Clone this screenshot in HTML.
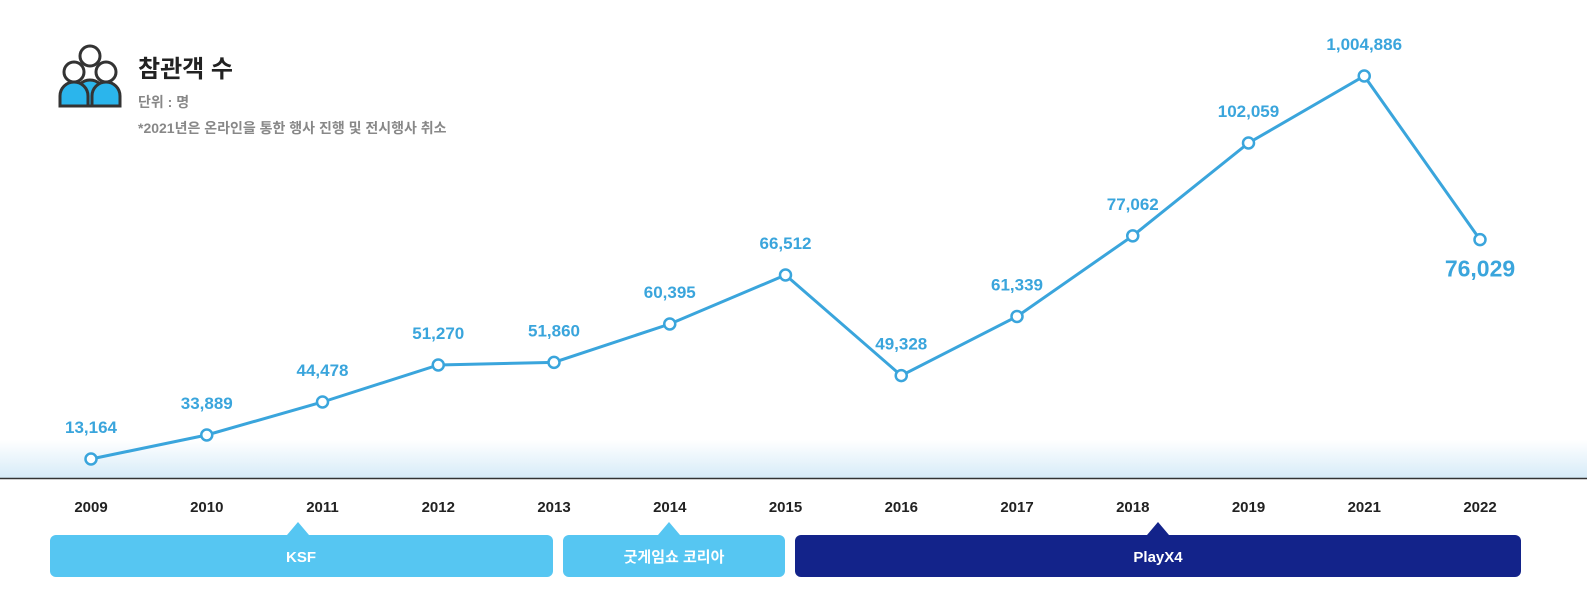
<!DOCTYPE html>
<html><head><meta charset="utf-8">
<style>
body{margin:0;background:#fff;font-family:"Liberation Sans","Noto Sans CJK KR",sans-serif;}
#wrap{position:relative;width:1587px;height:595px;overflow:hidden;}
</style></head>
<body>
<div id="wrap">
<svg id="chart" width="1587" height="595" xmlns="http://www.w3.org/2000/svg">
<defs>
<linearGradient id="fade" x1="0" y1="0" x2="0" y2="1">
<stop offset="0" stop-color="#ffffff"/>
<stop offset="1" stop-color="#d6ebf8"/>
</linearGradient>
</defs>
<rect x="0" y="440" width="1587" height="38" fill="url(#fade)"/>
<line x1="0" y1="478.5" x2="1587" y2="478.5" stroke="#333" stroke-width="1.5"/>
<g>
<circle cx="74" cy="72" r="10" fill="#fff" stroke="#333" stroke-width="3"/>
<circle cx="106" cy="72" r="10" fill="#fff" stroke="#333" stroke-width="3"/>
<circle cx="90" cy="56" r="10" fill="#fff" stroke="#333" stroke-width="3"/>
<path d="M76 106 v-12 a14 14 0 0 1 28 0 v12 z" fill="#2bb5ec" stroke="#333" stroke-width="3"/>
<path d="M60 106 v-10 a14 14 0 0 1 28 0 v10 z" fill="#2bb5ec" stroke="#333" stroke-width="3"/>
<path d="M92 106 v-10 a14 14 0 0 1 28 0 v10 z" fill="#2bb5ec" stroke="#333" stroke-width="3"/>
</g>
<text x="138" y="77" font-size="24" font-weight="bold" fill="#222">참관객 수</text>
<text x="138" y="107" font-size="14" font-weight="bold" fill="#888">단위 : 명</text>
<text x="138" y="133" font-size="14" font-weight="bold" fill="#888">*2021년은 온라인을 통한 행사 진행 및 전시행사 취소</text>
<g id="marks"></g>
<g>
<polygon points="287,535 298,522 309,535" fill="#56c6f2"/>
<rect x="50" y="535" width="503" height="42" rx="6" fill="#56c6f2"/>
<text x="301" y="562" font-size="15" font-weight="bold" fill="#fff" text-anchor="middle">KSF</text>
<polygon points="658,535 669,522 680,535" fill="#56c6f2"/>
<rect x="563" y="535" width="222" height="42" rx="6" fill="#56c6f2"/>
<text x="674" y="562" font-size="15" font-weight="bold" fill="#fff" text-anchor="middle">굿게임쇼 코리아</text>
<polygon points="1147,535 1158,522 1169,535" fill="#13238a"/>
<rect x="795" y="535" width="726" height="42" rx="6" fill="#13238a"/>
<text x="1158" y="562" font-size="15" font-weight="bold" fill="#fff" text-anchor="middle">PlayX4</text>
</g>
</svg>
</div>
<script>
const years = ["2009","2010","2011","2012","2013","2014","2015","2016","2017","2018","2019","2021","2022"];
const visitors = [13164,33889,44478,51270,51860,60395,66512,49328,61339,77062,102059,1004886,76029];
const valueLabels = ["13,164","33,889","44,478","51,270","51,860","60,395","66,512","49,328","61,339","77,062","102,059","1,004,886","76,029"];
// illustrative (non-linear) axis breakpoints
const scaleDomain = [13164,33889,44478,51270,60395,66512,102059,1004886];
const scaleRange = [459,435,402,365,324,275,143,76];
function xPos(i){return 91 + i*115.75;}
function yPos(v){
  const d=scaleDomain,r=scaleRange;
  if(v<=d[0]) return r[0]-(v-d[0])/(d[1]-d[0])*(r[1]-r[0])*-1;
  for(let k=0;k<d.length-1;k++){
    if(v<=d[k+1]){const t=(v-d[k])/(d[k+1]-d[k]);return r[k]+t*(r[k+1]-r[k]);}
  }
  const n=d.length-1;return r[n]+(v-d[n])/(d[n]-d[n-1])*(r[n]-r[n-1]);
}
const NS="http://www.w3.org/2000/svg";
const g=document.getElementById('marks');
let pts=visitors.map((v,i)=>xPos(i)+","+yPos(v)).join(" ");
const line=document.createElementNS(NS,'polyline');
line.setAttribute('points',pts);line.setAttribute('fill','none');
line.setAttribute('stroke','#3aa5dc');line.setAttribute('stroke-width','3');


g.appendChild(line);
visitors.forEach((v,i)=>{
  const x=xPos(i),y=yPos(v);
  const c=document.createElementNS(NS,'circle');
  c.setAttribute('cx',x);c.setAttribute('cy',y);c.setAttribute('r','5.5');
  c.setAttribute('fill','#fff');c.setAttribute('stroke','#3aa5dc');c.setAttribute('stroke-width','2.5');
  
  
  g.appendChild(c);
  const t=document.createElementNS(NS,'text');
  const last=i===visitors.length-1;
  t.setAttribute('x',last?x:x);t.setAttribute('y',last?y+37:y-26);
  t.setAttribute('text-anchor','middle');t.setAttribute('font-weight','bold');
  t.setAttribute('font-size',last?'23':'17');t.setAttribute('fill','#3aa5dc');
  t.textContent=valueLabels[i];
  
  
  g.appendChild(t);
  const yl=document.createElementNS(NS,'text');
  yl.setAttribute('x',x);yl.setAttribute('y',512);yl.setAttribute('text-anchor','middle');
  yl.setAttribute('font-size','15');yl.setAttribute('font-weight','bold');yl.setAttribute('fill','#222');
  yl.textContent=years[i];
  
  
  g.appendChild(yl);
});
</script>
</body></html>
